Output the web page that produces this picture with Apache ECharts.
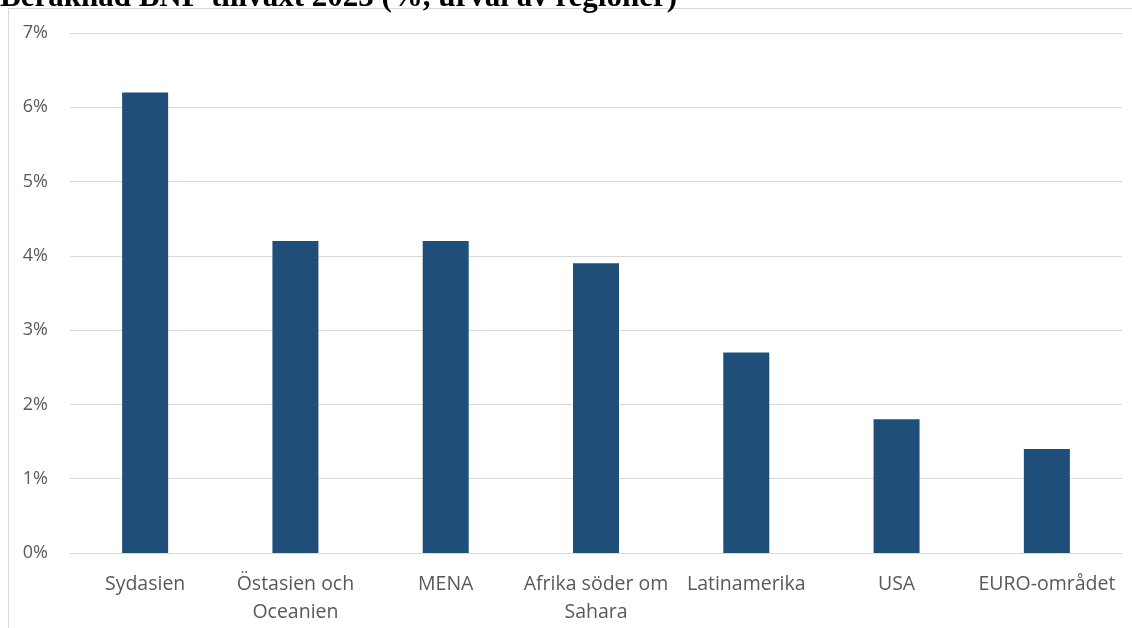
<!DOCTYPE html>
<html>
<head>
<meta charset="utf-8">
<script src="https://cdn.jsdelivr.net/npm/echarts@6/dist/echarts.min.js"></script>
<style>
  html, body { margin: 0; padding: 0; background: #fff; }
  #frame { position: absolute; left: 8px; top: 8px; width: 1200px; height: 700px; border: 1px solid #d9d9d9; }
  #chart { position: absolute; left: 0; top: 0; width: 1132px; height: 628px; }
</style>
</head>
<body>
<div id="frame"></div>
<div id="chart"></div>
<script>
  var titleText = 'Beräknad BNP-tillväxt 2023 (%, urval av regioner)';
  var regions = ['Sydasien', 'Östasien och\nOceanien', 'MENA', 'Afrika söder om\nSahara', 'Latinamerika', 'USA', 'EURO-området'];
  var growth = [6.2, 4.2, 4.2, 3.9, 2.7, 1.8, 1.4];

  var myChart = echarts.init(document.getElementById('chart'));
  myChart.setOption({
    animation: false,
    // titeln är avklippt upptill i originalet
    graphic: [{
      type: 'text',
      left: 0,
      top: -18,
      style: {
        text: titleText,
        fontFamily: 'Liberation Serif',
        fontWeight: 'bold',
        fontSize: 31,
        fill: '#000'
      }
    }],
    grid: {
      left: 70,
      right: 10,
      top: 33,
      bottom: 75,
      containLabel: false
    },
    xAxis: {
      type: 'category',
      data: regions,
      axisTick: { show: false },
      axisLine: { lineStyle: { color: '#d9d9d9', width: 1 } },
      axisLabel: {
        interval: 0,
        margin: 17,
        color: '#595959',
        fontFamily: 'Open Sans',
        fontSize: 19.5,
        lineHeight: 28
      }
    },
    yAxis: {
      type: 'value',
      min: 0,
      max: 7,
      interval: 1,
      axisLine: { show: false },
      axisTick: { show: false },
      splitLine: { lineStyle: { color: '#d9d9d9', width: 1 } },
      axisLabel: {
        margin: 22,
        color: '#595959',
        fontFamily: 'Open Sans',
        fontSize: 18,
        formatter: '{value}%'
      }
    },
    series: [{
      type: 'bar',
      data: growth,
      barWidth: 46,
      itemStyle: { color: '#1f4e79' }
    }]
  });
</script>
</body>
</html>
